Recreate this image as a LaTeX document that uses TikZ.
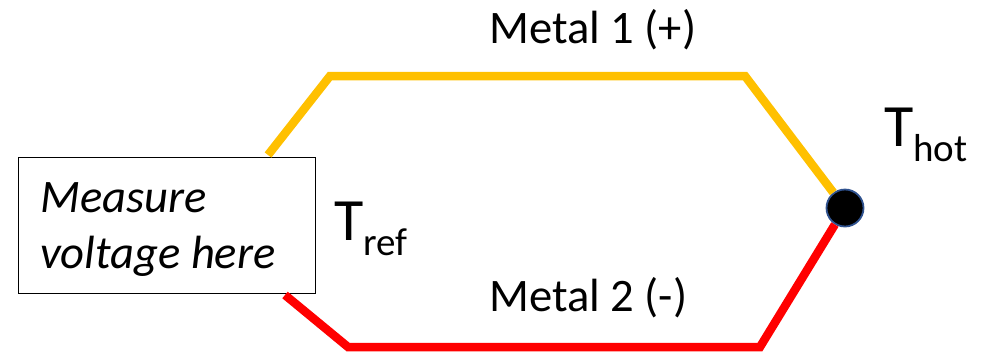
\documentclass[tikz,border=0pt]{standalone}
\usepackage{fontspec}
\setmainfont{Carlito}
\definecolor{metalyellow}{HTML}{FFC000}
\definecolor{metalred}{HTML}{FF0000}
\definecolor{dotblue}{HTML}{2F528F}
\newcommand{\labelfont}{\fontsize{46.6}{56}\selectfont}
\newcommand{\bigT}{\fontsize{60}{60}\selectfont}
\newcommand{\subT}[1]{\raisebox{-15.5pt}{\fontsize{39}{39}\selectfont #1}}
\begin{document}
\begin{tikzpicture}[x=1pt,y=-1pt,
    wire/.style={line width=8.5pt},
    lbl/.style={anchor=base west,inner sep=0pt,font=\labelfont}]
  \useasboundingbox (0,0) rectangle (999,354);
  \node[draw,line width=1.2pt,anchor=north west,minimum width=297pt,minimum height=136pt,
        inner sep=0pt] (box) at (18,157) {};
  \node[lbl,font=\labelfont\itshape] (meas) at (40,212) {Measure};
  \node[lbl,font=\labelfont\itshape] (volt) at (40,268) {voltage here};
  \node[circle,fill=black,draw=dotblue,line width=1.8pt,minimum size=37pt,inner sep=0pt]
    (hot) at (845,208) {};
  \coordinate (y0) at (268,155);
  \coordinate (y1) at (330,76);
  \coordinate (y2) at (745,76);
  \coordinate (r0) at (285,295);
  \coordinate (r1) at (348,347);
  \coordinate (r2) at (760,347);
  \begin{scope}[wire]
    \draw[metalyellow] (y0) -- (y1) -- (y2) -- (hot);
    \draw[metalred] (hot) -- (r2) -- (r1) -- (r0);
  \end{scope}
  \node[lbl] (m1) at (489,43) {Metal 1 (+)};
  \node[lbl] (m2) at (489,311) {Metal 2 (-)};
  \node[lbl] (tref) at (334,240) {\bigT T\subT{ref}};
  \node[lbl] (thot) at (884,146) {\bigT T\subT{hot}};
\end{tikzpicture}
\end{document}
